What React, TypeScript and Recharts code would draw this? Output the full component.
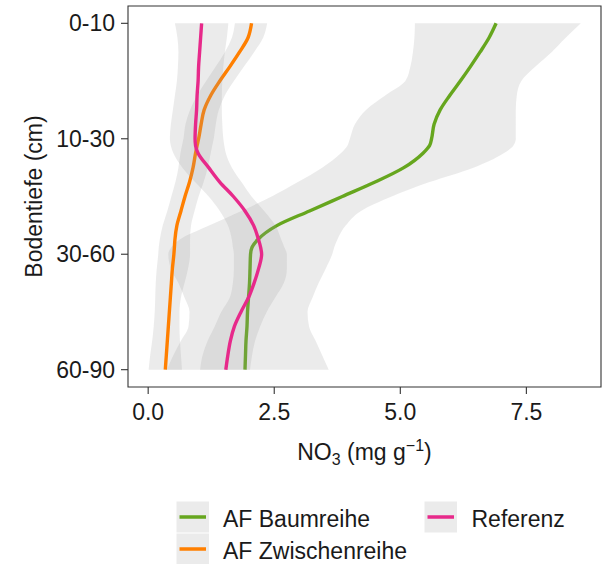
import React from 'react';
import { ComposedChart, Area, XAxis, YAxis, ReferenceArea } from 'recharts';

const depthLabels = ['0-10', '10-30', '30-60', '60-90'];
const depthTicks = [1, 2, 3, 4];
const xTicks = [0, 2.5, 5, 7.5];

const depth = [1, 1.125, 1.25, 1.375, 1.5, 1.625, 1.75, 1.875, 2, 2.06, 2.125, 2.25, 2.375, 2.5, 2.625, 2.75, 2.875, 2.94, 3, 3.125, 3.25, 3.375, 3.5, 3.625, 3.75, 3.875, 4];

const baumLine = [6.90, 6.76, 6.58, 6.39, 6.19, 5.98, 5.79, 5.67, 5.62, 5.58, 5.45, 5.07, 4.50, 3.85, 3.20, 2.56, 2.17, 2.06, 2.03, 2.02, 2.01, 1.99, 1.97, 1.96, 1.94, 1.93, 1.92];
const baumLow = [5.29, 5.28, 5.25, 5.20, 5.10, 4.70, 4.32, 4.10, 4.00, 3.95, 3.82, 3.45, 2.97, 2.45, 1.85, 1.22, 0.62, 0.46, 0.40, 0.45, 0.60, 0.72, 0.82, 0.80, 0.65, 0.50, 0.37];
const baumHigh = [8.58, 8.28, 8.00, 7.68, 7.40, 7.31, 7.29, 7.29, 7.29, 7.24, 7.05, 6.45, 5.58, 4.83, 4.22, 3.92, 3.75, 3.69, 3.65, 3.52, 3.38, 3.26, 3.16, 3.19, 3.32, 3.45, 3.58];

const zwLine = [2.05, 1.98, 1.81, 1.62, 1.42, 1.24, 1.11, 1.05, 1.00, 0.97, 0.94, 0.89, 0.82, 0.73, 0.65, 0.57, 0.53, 0.52, 0.51, 0.48, 0.46, 0.44, 0.42, 0.40, 0.38, 0.36, 0.34];
const zwLow = [1.72, 1.66, 1.52, 1.34, 1.15, 0.97, 0.83, 0.74, 0.70, 0.67, 0.64, 0.60, 0.54, 0.46, 0.38, 0.29, 0.23, 0.21, 0.20, 0.17, 0.15, 0.14, 0.13, 0.11, 0.08, 0.04, 0.01];
const zwHigh = [2.36, 2.28, 2.10, 1.90, 1.70, 1.52, 1.40, 1.34, 1.30, 1.27, 1.24, 1.18, 1.10, 1.00, 0.92, 0.85, 0.83, 0.83, 0.83, 0.79, 0.72, 0.65, 0.62, 0.62, 0.63, 0.65, 0.67];

const refLine = [1.06, 1.04, 1.02, 1.00, 0.99, 0.97, 0.96, 0.94, 0.93, 0.94, 0.99, 1.20, 1.42, 1.69, 1.92, 2.09, 2.19, 2.23, 2.25, 2.19, 2.10, 1.99, 1.84, 1.71, 1.63, 1.58, 1.54];
const refLow = [0.53, 0.58, 0.60, 0.59, 0.57, 0.53, 0.49, 0.45, 0.43, 0.45, 0.50, 0.68, 0.93, 1.20, 1.42, 1.58, 1.66, 1.68, 1.70, 1.70, 1.68, 1.62, 1.45, 1.32, 1.18, 1.08, 1.03];
const refHigh = [1.59, 1.56, 1.52, 1.49, 1.47, 1.46, 1.46, 1.47, 1.49, 1.51, 1.54, 1.66, 1.85, 2.05, 2.30, 2.52, 2.64, 2.70, 2.75, 2.75, 2.69, 2.52, 2.35, 2.22, 2.12, 2.06, 2.02];

const seriesNames = ['AF Baumreihe', 'AF Zwischenreihe', 'Referenz'];
const seriesColors = ['#66a61e', '#ff7f00', '#e7298a'];

const data = depth.map((d, i) => ({
  d,
  baum: baumLine[i],
  baumBand: [baumLow[i], baumHigh[i]],
  zw: zwLine[i],
  zwBand: [zwLow[i], zwHigh[i]],
  ref: refLine[i],
  refBand: [refLow[i], refHigh[i]],
}));

const FONT = '"Liberation Sans", Arial, Helvetica, sans-serif';
const TEXT = '#1a1a1a';

const XLabel = (props: any) => {
  const vb = props.viewBox || { x: 128, y: 387, width: 473, height: 77 };
  const cx = vb.x + vb.width / 2;
  return (
    <text x={cx} y={459.5} textAnchor="middle" fontSize={23} fill={TEXT} fontFamily={FONT}>
      NO<tspan fontSize={16} dy={5}>3</tspan>
      <tspan dy={-5}> (mg g</tspan>
      <tspan fontSize={16} dy={-9}>−1</tspan>
      <tspan dy={9}>)</tspan>
    </text>
  );
};

const YLabel = (props: any) => {
  const vb = props.viewBox || { x: 0, y: 6, width: 128, height: 381 };
  const cy = vb.y + vb.height / 2;
  const x = 41.5;
  return (
    <text x={x} y={cy} transform={`rotate(-90, ${x}, ${cy})`} textAnchor="middle" fontSize={23} fill={TEXT} fontFamily={FONT}>
      Bodentiefe (cm)
    </text>
  );
};

const keyBoxes = [
  { x: 176.5, y: 501.5, tx: 223, ty: 526.5 },
  { x: 176.5, y: 533.5, tx: 223, ty: 559 },
  { x: 424.5, y: 501.5, tx: 471.5, ty: 526.5 },
];

const LegendOverlay = () => (
  <svg width={602} height={564} style={{ position: 'absolute', left: 0, top: 0, pointerEvents: 'none' }}>
    {seriesNames.map((name, i) => {
      const k = keyBoxes[i];
      return (
        <g key={name}>
          <rect x={k.x} y={k.y} width={32.5} height={31} fill="#ebebeb" />
          <line x1={k.x + 3} x2={k.x + 29.5} y1={k.y + 15.5} y2={k.y + 15.5} stroke={seriesColors[i]} strokeWidth={3.5} />
          <text x={k.tx} y={k.ty} fontSize={23} fill={TEXT} fontFamily={FONT}>{name}</text>
        </g>
      );
    })}
  </svg>
);

export default function App() {
  return (
    <div style={{ position: 'absolute', left: 0, top: 0, width: 602, height: 564, background: '#fff', fontFamily: FONT }}>
      <ComposedChart
        width={602}
        height={564}
        data={data}
        layout="vertical"
        margin={{ top: 6, right: 1, bottom: 100, left: 0 }}
      >
        <XAxis
          type="number"
          domain={[-0.4, 8.98]}
          allowDataOverflow
          ticks={xTicks}
          tickFormatter={(v: number) => v.toFixed(1)}
          height={77}
          axisLine={false}
          tickSize={7}
          tickMargin={10}
          tickLine={{ stroke: '#333333', strokeWidth: 1.1 }}
          tick={{ fontSize: 23, fill: TEXT, fontFamily: FONT }}
          label={<XLabel />}
        />
        <YAxis
          type="number"
          dataKey="d"
          domain={[0.85, 4.15]}
          allowDataOverflow
          ticks={depthTicks}
          tickFormatter={(v: number) => depthLabels[Math.round(v) - 1]}
          width={128}
          axisLine={false}
          tickSize={7}
          tickMargin={6}
          tickLine={{ stroke: '#333333', strokeWidth: 1.1 }}
          tick={{ fontSize: 23, fill: TEXT, fontFamily: FONT }}
          label={<YLabel />}
        />
        <Area type="monotone" dataKey="baumBand" stroke="none" fill="#999999" fillOpacity={0.2} isAnimationActive={false} />
        <Area type="monotone" dataKey="baum" stroke={seriesColors[0]} strokeWidth={3.4} fill="none" fillOpacity={0} isAnimationActive={false} />
        <Area type="monotone" dataKey="zwBand" stroke="none" fill="#999999" fillOpacity={0.2} isAnimationActive={false} />
        <Area type="monotone" dataKey="zw" stroke={seriesColors[1]} strokeWidth={3.4} fill="none" fillOpacity={0} isAnimationActive={false} />
        <Area type="monotone" dataKey="refBand" stroke="none" fill="#999999" fillOpacity={0.2} isAnimationActive={false} />
        <Area type="monotone" dataKey="ref" stroke={seriesColors[2]} strokeWidth={3.4} fill="none" fillOpacity={0} isAnimationActive={false} />
        <ReferenceArea x1={-0.4} x2={8.98} y1={0.85} y2={4.15} fill="none" stroke="#333333" strokeWidth={1.1} ifOverflow="visible" />
      </ComposedChart>
      <LegendOverlay />
    </div>
  );
}
